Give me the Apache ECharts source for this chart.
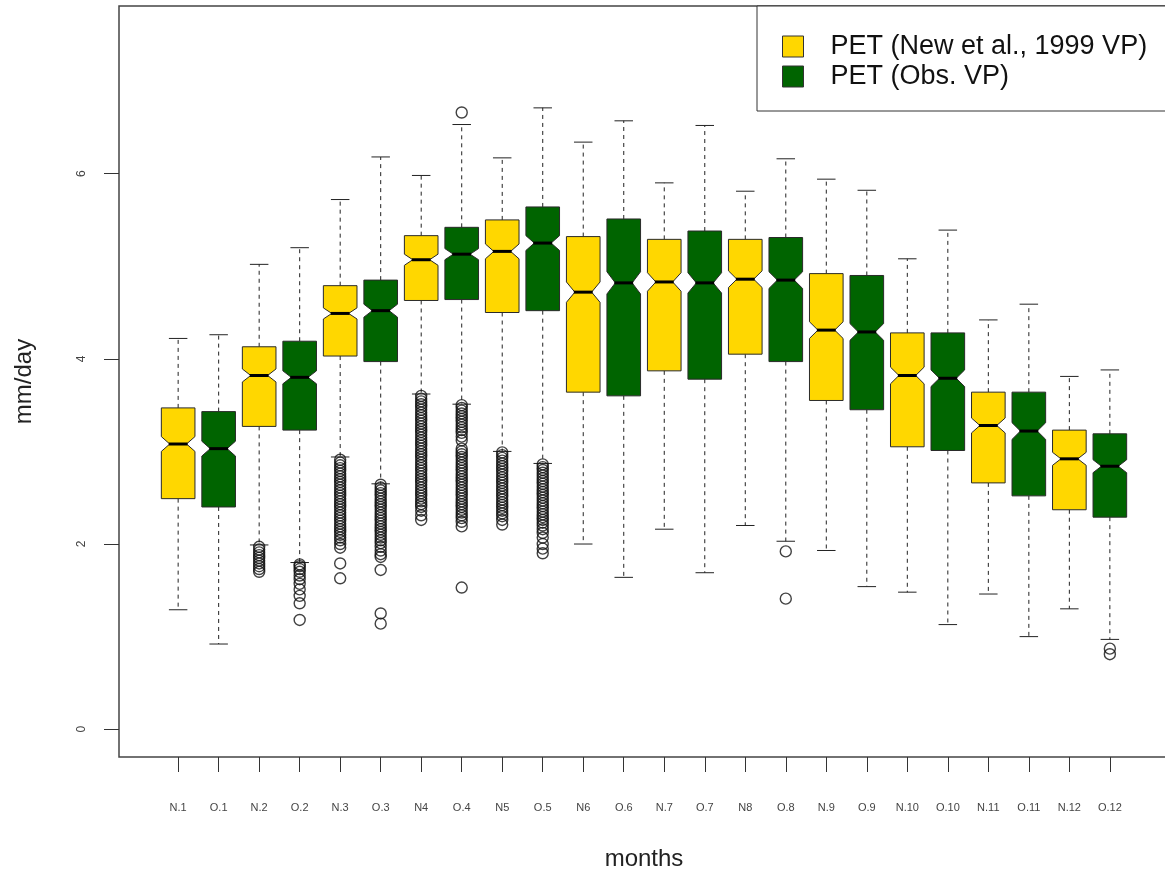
<!DOCTYPE html>
<html><head><meta charset="utf-8">
<script src="https://cdn.jsdelivr.net/npm/echarts@6/dist/echarts.min.js"></script>
<style>html,body{margin:0;padding:0;background:#fff}#c{width:1165px;height:873px}</style>
</head><body><div id="c"></div>
<script>
// ---- data ----
const categories = ['N.1','O.1','N.2','O.2','N.3','O.3','N4','O.4','N5','O.5','N6','O.6','N.7','O.7','N8','O.8','N.9','O.9','N.10','O.10','N.11','O.11','N.12','O.12'];
const yTicks = [0, 2, 4, 6];
const seriesNames = ['PET (New et al., 1999 VP)', 'PET (Obs. VP)'];

// New et al. (N.1 .. N.12)
const newLow   = [1.29, 1.99, 2.94, 3.62, 3.00, 2.00, 2.16, 2.20, 1.93, 1.48, 1.46, 1.30];
const newQ1    = [2.49, 3.27, 4.03, 4.63, 4.50, 3.64, 3.87, 4.05, 3.55, 3.05, 2.66, 2.37];
const newMed   = [3.08, 3.82, 4.49, 5.07, 5.16, 4.72, 4.83, 4.86, 4.31, 3.82, 3.28, 2.92];
const newQ3    = [3.47, 4.13, 4.79, 5.33, 5.50, 5.32, 5.29, 5.29, 4.92, 4.28, 3.64, 3.23];
const newHigh  = [4.22, 5.02, 5.72, 5.98, 6.17, 6.34, 5.90, 5.81, 5.94, 5.08, 4.42, 3.81];
const newNotch = [0.08, 0.07, 0.06, 0.06, 0.08, 0.11, 0.10, 0.09, 0.09, 0.09, 0.08, 0.07];
const newOutliers = [
  [],
  [1.97,1.94,1.91,1.88,1.85,1.82,1.79,1.76,1.73,1.70],
  [2.91,2.88,2.85,2.82,2.79,2.76,2.73,2.70,2.67,2.64,2.61,2.58,2.55,2.52,2.49,2.46,2.43,2.40,2.37,2.34,2.31,2.28,2.25,2.22,2.19,2.16,2.13,2.10,2.07,2.04,2.00,1.96,1.79,1.63],
  [3.60,3.57,3.54,3.51,3.48,3.45,3.42,3.39,3.36,3.33,3.30,3.27,3.24,3.21,3.18,3.15,3.12,3.09,3.06,3.03,3.00,2.97,2.94,2.91,2.88,2.85,2.82,2.79,2.76,2.73,2.70,2.67,2.64,2.61,2.58,2.55,2.52,2.49,2.46,2.43,2.40,2.36,2.31,2.26],
  [2.99,2.96,2.93,2.90,2.87,2.84,2.81,2.78,2.75,2.72,2.69,2.66,2.63,2.60,2.57,2.54,2.51,2.48,2.45,2.42,2.39,2.36,2.33,2.30,2.26,2.21],
  [], [], [], [], [], [], []
];

// Observed (O.1 .. O.12)
const obsLow   = [0.92, 1.80, 2.65, 3.51, 2.87, 1.64, 1.69, 2.03, 1.54, 1.13, 1.00, 0.97];
const obsQ1    = [2.40, 3.23, 3.97, 4.64, 4.52, 3.60, 3.78, 3.97, 3.45, 3.01, 2.52, 2.29];
const obsMed   = [3.03, 3.80, 4.52, 5.13, 5.25, 4.82, 4.82, 4.85, 4.29, 3.79, 3.22, 2.84];
const obsQ3    = [3.43, 4.19, 4.85, 5.42, 5.64, 5.51, 5.38, 5.31, 4.90, 4.28, 3.64, 3.19];
const obsHigh  = [4.26, 5.20, 6.18, 6.53, 6.71, 6.57, 6.52, 6.16, 5.82, 5.39, 4.59, 3.88];
const obsNotch = [0.08, 0.07, 0.07, 0.06, 0.08, 0.12, 0.11, 0.09, 0.09, 0.09, 0.09, 0.07];
const obsOutliers = [
  [],
  [1.78,1.76,1.73,1.70,1.66,1.62,1.57,1.51,1.44,1.36,1.18],
  [2.64,2.61,2.58,2.55,2.52,2.49,2.46,2.43,2.40,2.37,2.34,2.31,2.28,2.25,2.22,2.19,2.16,2.13,2.10,2.07,2.04,2.01,1.97,1.93,1.89,1.86,1.72,1.25,1.14],
  [6.66,3.50,3.47,3.44,3.41,3.38,3.35,3.32,3.29,3.26,3.23,3.20,3.16,3.12,3.03,3.00,2.97,2.94,2.91,2.88,2.85,2.82,2.79,2.76,2.73,2.70,2.67,2.64,2.61,2.58,2.55,2.52,2.49,2.46,2.43,2.40,2.37,2.34,2.31,2.28,2.24,2.19,1.53],
  [2.86,2.83,2.80,2.77,2.74,2.71,2.68,2.65,2.62,2.59,2.56,2.53,2.50,2.47,2.44,2.41,2.38,2.35,2.32,2.29,2.26,2.23,2.20,2.16,2.12,2.07,2.00,1.95,1.90],
  [], [], [1.92,1.41], [], [], [], [0.87,0.81]
];

// ---- build ----
const positions = categories.map((c, i) => i + 1);
function boxData(low, q1, med, q3, high, notch, offset) {
  return low.map((v, i) => [2 * i + 1 + offset, v, q1[i], med[i], q3[i], high[i], med[i] - notch[i], med[i] + notch[i]]);
}
function outData(outs, offset) {
  const r = [];
  outs.forEach((list, i) => list.forEach(v => r.push([2 * i + 1 + offset, v])));
  return r;
}
function renderBox(params, api) {
  const x = api.value(0);
  const pLow = api.coord([x, api.value(1)]);
  const pQ1 = api.coord([x, api.value(2)]);
  const pMed = api.coord([x, api.value(3)]);
  const pQ3 = api.coord([x, api.value(4)]);
  const pHigh = api.coord([x, api.value(5)]);
  const pNlo = api.coord([x, api.value(6)]);
  const pNhi = api.coord([x, api.value(7)]);
  const unit = api.size([1, 0])[0];
  const hw = unit * 0.415, nw = hw * 0.5, cw = hw * 0.55;
  const cx = pMed[0];
  const fill = api.visual('color');
  const dash = { stroke: '#222', lineWidth: 1, lineDash: [4, 4] };
  const solid = { stroke: '#222', lineWidth: 1 };
  return { type: 'group', children: [
    { type: 'line', shape: { x1: cx, y1: pQ3[1], x2: cx, y2: pHigh[1] }, style: dash },
    { type: 'line', shape: { x1: cx, y1: pQ1[1], x2: cx, y2: pLow[1] }, style: dash },
    { type: 'line', shape: { x1: cx - cw, y1: pHigh[1], x2: cx + cw, y2: pHigh[1] }, style: solid },
    { type: 'line', shape: { x1: cx - cw, y1: pLow[1], x2: cx + cw, y2: pLow[1] }, style: solid },
    { type: 'polygon', shape: { points: [
        [cx - hw, pQ1[1]], [cx - hw, pNlo[1]], [cx - nw, pMed[1]], [cx - hw, pNhi[1]], [cx - hw, pQ3[1]],
        [cx + hw, pQ3[1]], [cx + hw, pNhi[1]], [cx + nw, pMed[1]], [cx + hw, pNlo[1]], [cx + hw, pQ1[1]]
      ] }, style: { fill: fill, stroke: '#2a2a2a', lineWidth: 1 } },
    { type: 'line', shape: { x1: cx - nw - 1, y1: pMed[1], x2: cx + nw + 1, y2: pMed[1] }, style: { stroke: '#000', lineWidth: 3 } }
  ] };
}

const colors = ['#FFD700', '#006400'];
const font = "'Liberation Sans', Arial, Helvetica, sans-serif";
const outlierStyle = { color: 'rgba(0,0,0,0)', borderColor: '#111', borderWidth: 1.4 };

const option = {
  backgroundColor: '#fff',
  animation: false,
  textStyle: { fontFamily: font },
  grid: { left: 119, top: 6, width: 1050, height: 751, show: true, borderColor: '#444', borderWidth: 1.5,
          backgroundColor: 'transparent', containLabel: false, outerBoundsMode: 'none' },
  legend: {
    orient: 'vertical', left: 757, top: 6,
    padding: [27, 40, 21, 25],
    itemGap: 3, itemWidth: 21, itemHeight: 21,
    borderColor: '#333', borderWidth: 1, backgroundColor: '#fff',
    textStyle: { fontSize: 27, color: '#111', fontFamily: font, padding: [0, 0, 0, 22] },
    selectedMode: false,
    data: [
      { name: seriesNames[0], icon: 'rect', itemStyle: { color: colors[0], borderColor: '#333', borderWidth: 1 } },
      { name: seriesNames[1], icon: 'rect', itemStyle: { color: colors[1], borderColor: '#333', borderWidth: 1 } }
    ]
  },
  xAxis: {
    type: 'value', min: -0.46, max: 25.46,
    axisLine: { show: false, onZero: false }, splitLine: { show: false },
    axisTick: { show: true, length: 15, customValues: positions, lineStyle: { color: '#333', width: 1 } },
    axisLabel: { customValues: positions, formatter: v => categories[v - 1], margin: 45, fontSize: 11, color: '#444', fontFamily: font },
    name: 'months', nameLocation: 'middle', nameGap: 90,
    nameTextStyle: { fontSize: 24, color: '#222', fontFamily: font }
  },
  yAxis: {
    type: 'value', min: -0.30, max: 7.81,
    axisLine: { show: false, onZero: false }, splitLine: { show: false },
    axisTick: { show: true, length: 15, customValues: yTicks, lineStyle: { color: '#333', width: 1 } },
    axisLabel: { customValues: yTicks, rotate: 90, margin: 31, fontSize: 12, color: '#444', fontFamily: font },
    name: 'mm/day', nameLocation: 'middle', nameGap: 83,
    nameTextStyle: { fontSize: 24, color: '#222', fontFamily: font }
  },
  series: [
    { name: seriesNames[0], type: 'custom', renderItem: renderBox, itemStyle: { color: colors[0] },
      encode: { x: 0, y: [1, 2, 3, 4, 5] }, data: boxData(newLow, newQ1, newMed, newQ3, newHigh, newNotch, 0), z: 2 },
    { name: seriesNames[1], type: 'custom', renderItem: renderBox, itemStyle: { color: colors[1] },
      encode: { x: 0, y: [1, 2, 3, 4, 5] }, data: boxData(obsLow, obsQ1, obsMed, obsQ3, obsHigh, obsNotch, 1), z: 2 },
    { name: 'outNew', type: 'scatter', symbol: 'circle', symbolSize: 11, itemStyle: outlierStyle, data: outData(newOutliers, 0), z: 3, silent: true },
    { name: 'outObs', type: 'scatter', symbol: 'circle', symbolSize: 11, itemStyle: outlierStyle, data: outData(obsOutliers, 1), z: 3, silent: true }
  ]
};
const chart = echarts.init(document.getElementById('c'));
chart.setOption(option);
</script>
</body></html>
